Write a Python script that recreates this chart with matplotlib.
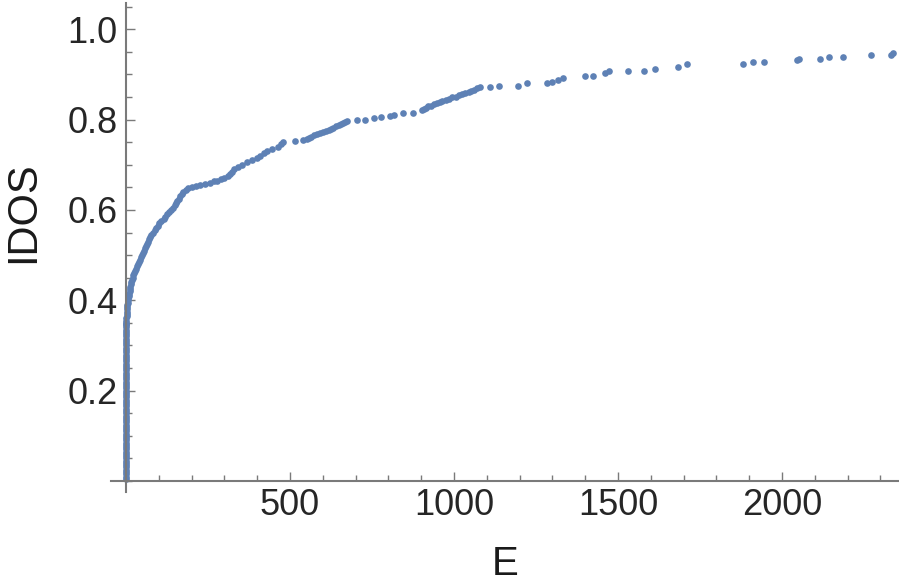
import matplotlib
matplotlib.use("Agg")
import matplotlib.pyplot as plt
from matplotlib.ticker import MultipleLocator, FixedLocator

# ---- data ----
E_zero = [0.0, 0.1, 0.1, 0.2, 0.2, 0.3, 0.3, 0.4, 0.4, 0.5, 0.5, 0.5, 0.6, 0.6, 0.6,
          0.7, 0.7, 0.7, 0.8, 0.8, 0.8, 0.9, 0.9, 0.9, 1.0, 1.0, 1.0, 1.1, 1.1, 1.1,
          1.2, 1.2, 1.2, 1.3, 1.3, 0.0, 0.1, 0.1, 0.2, 0.2, 0.3, 0.3, 0.4, 0.4, 0.5,
          0.5, 0.5, 0.6, 0.6, 0.6, 0.7, 0.7, 0.7, 0.8, 0.8, 0.8, 0.9, 0.9, 0.9, 1.0,
          1.0, 1.0, 1.1, 1.1, 1.1, 1.2, 1.2, 1.2, 1.3, 1.3]
IDOS_zero = [0.005, 0.015, 0.025, 0.035, 0.045, 0.055, 0.065, 0.075, 0.085, 0.095,
             0.105, 0.115, 0.125, 0.135, 0.145, 0.155, 0.165, 0.175, 0.185, 0.195,
             0.205, 0.215, 0.225, 0.235, 0.245, 0.255, 0.265, 0.275, 0.285, 0.295,
             0.305, 0.315, 0.325, 0.335, 0.345,
             0.010, 0.020, 0.030, 0.040, 0.050, 0.060, 0.070, 0.080, 0.090, 0.100,
             0.110, 0.120, 0.130, 0.140, 0.150, 0.160, 0.170, 0.180, 0.190, 0.200,
             0.210, 0.220, 0.230, 0.240, 0.250, 0.260, 0.270, 0.280, 0.290, 0.300,
             0.310, 0.320, 0.330, 0.340, 0.348]

E_curve = [1, 1.2, 1.5, 1.8, 2, 2.5, 3, 3.5, 4, 5, 6, 7, 8, 9.5, 11, 12, 13, 14.5, 16,
           18, 20, 22.5, 25, 27.5, 30, 33, 36, 39, 42, 45, 48, 51, 55, 57, 60, 63, 66,
           70, 73, 77, 82, 87, 92, 97, 102, 108, 115, 120, 126, 132, 138, 143, 148,
           152, 157, 161, 166, 170, 175, 182,
           190, 200, 212, 225, 240, 255, 268, 278, 290, 300, 310, 318, 324, 330, 342,
           355, 370, 385, 398, 410, 420, 430, 445, 465, 472, 480,
           515, 541, 551, 558, 565, 574, 582, 591, 600, 609, 618, 625, 632, 640, 648,
           655, 662, 668, 675, 705, 730, 757, 778, 806, 818, 845, 874,
           903, 909, 915, 922, 930, 939, 948, 956, 965, 975, 985, 995, 1005, 1015,
           1025, 1035, 1045, 1053, 1062, 1070, 1079,
           1111, 1136, 1196, 1222, 1283, 1300, 1318, 1333, 1400, 1423, 1460, 1473,
           1531, 1579, 1613, 1684, 1712, 1882, 1912, 1946, 2045, 2052, 2116, 2144,
           2187, 2271, 2334, 2338]
IDOS_curve = [0.350, 0.355, 0.360, 0.365, 0.370, 0.375, 0.380, 0.385, 0.390, 0.395,
              0.400, 0.405, 0.410, 0.415, 0.420, 0.425, 0.430, 0.435, 0.440, 0.445,
              0.450, 0.455, 0.460, 0.465, 0.470, 0.475, 0.480, 0.485, 0.490, 0.495,
              0.500, 0.505, 0.510, 0.515, 0.520, 0.525, 0.530, 0.535, 0.540, 0.545,
              0.550, 0.555, 0.560, 0.565, 0.570, 0.575, 0.580, 0.585, 0.590, 0.595,
              0.600, 0.605, 0.610, 0.615, 0.620, 0.625, 0.630, 0.635, 0.640, 0.645,
              0.648, 0.650, 0.652, 0.655, 0.657, 0.660, 0.663, 0.665, 0.668, 0.670,
              0.675, 0.680, 0.685, 0.690, 0.695, 0.700, 0.705, 0.710, 0.715, 0.720,
              0.725, 0.730, 0.735, 0.740, 0.745, 0.751,
              0.753, 0.754, 0.758, 0.760, 0.762, 0.765, 0.767, 0.770, 0.772, 0.775,
              0.777, 0.780, 0.782, 0.785, 0.787, 0.790, 0.792, 0.794, 0.796, 0.799,
              0.800, 0.804, 0.805, 0.809, 0.810, 0.814, 0.815,
              0.821, 0.824, 0.826, 0.829, 0.831, 0.834, 0.836, 0.839, 0.841, 0.844,
              0.846, 0.849, 0.851, 0.854, 0.856, 0.859, 0.861, 0.864, 0.866, 0.869,
              0.871,
              0.871, 0.875, 0.875, 0.882, 0.882, 0.884, 0.888, 0.891, 0.896, 0.896,
              0.902, 0.907, 0.907, 0.907, 0.912, 0.916, 0.922, 0.923, 0.928, 0.928,
              0.931, 0.934, 0.933, 0.938, 0.938, 0.944, 0.944, 0.947]

x_major = [500, 1000, 1500, 2000]
x_labels = ["500", "1000", "1500", "2000"]
y_major = [0.2, 0.4, 0.6, 0.8, 1.0]
y_labels = ["0.2", "0.4", "0.6", "0.8", "1.0"]

# ---- figure ----
plt.rcParams['font.family'] = ['Liberation Sans', 'DejaVu Sans']
fig = plt.figure(figsize=(8.99, 5.84), dpi=100)
ax = fig.add_axes([111/899, 1 - 492/584, 788/899, 489/584])

pt_color = '#5E81B5'
ax.plot(E_zero, IDOS_zero, 'o', ms=4.8, mec='none', mfc=pt_color)
ax.plot(E_curve, IDOS_curve, 'o', ms=4.8, mec='none', mfc=pt_color)

ax.set_xlim(-45.7, 2357)
ax.set_ylim(-0.0243, 1.058)

axis_color = '#7a7a7a'
for s in ['top', 'right']:
    ax.spines[s].set_visible(False)
ax.spines['left'].set_position(('data', 0))
ax.spines['bottom'].set_position(('data', 0))
for s in ['left', 'bottom']:
    ax.spines[s].set_color(axis_color)
    ax.spines[s].set_linewidth(1.5)

ax.xaxis.set_major_locator(FixedLocator(x_major))
ax.set_xticklabels(x_labels)
ax.yaxis.set_major_locator(FixedLocator(y_major))
ax.set_yticklabels(y_labels)
ax.xaxis.set_minor_locator(MultipleLocator(100))
ax.yaxis.set_minor_locator(MultipleLocator(0.05))

ax.tick_params(axis='both', which='major', direction='in', length=6.5, width=1.0,
               color=axis_color, labelsize=26, labelcolor='#262626')
ax.tick_params(axis='both', which='minor', direction='in', length=4, width=1.0,
               color=axis_color)
ax.tick_params(axis='x', which='major', pad=5)
ax.tick_params(axis='y', which='major', pad=6)

fig.text(3/899, 1 - 212/584, 'IDOS', rotation=90, fontsize=30, color='#1a1a1a',
         ha='left', va='center')
fig.text(505/899, 1/584, 'E', fontsize=29, color='#1a1a1a',
         ha='center', va='bottom')

fig.savefig('out.png', dpi=100)
